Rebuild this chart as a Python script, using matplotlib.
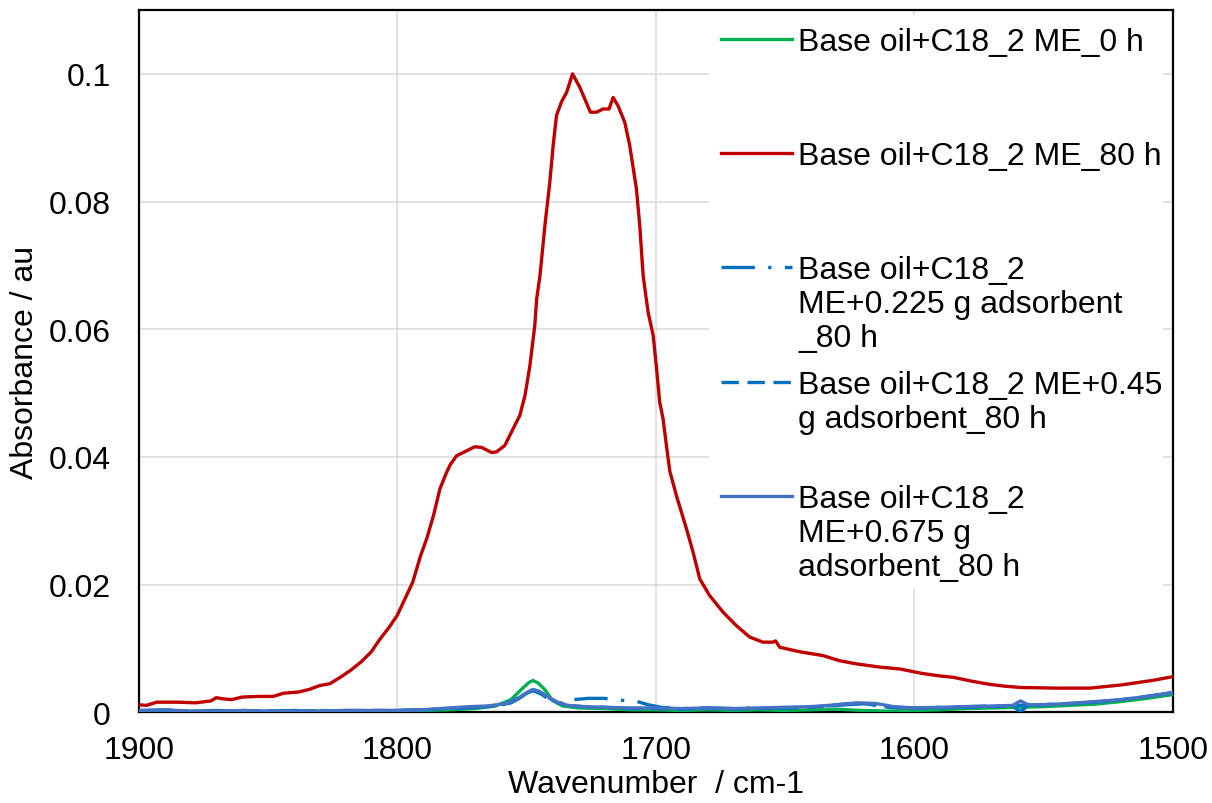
import matplotlib
matplotlib.use("Agg")
import matplotlib.pyplot as plt
from matplotlib.lines import Line2D
from matplotlib.patches import Rectangle
from matplotlib.ticker import FuncFormatter, MultipleLocator

plt.rcParams["font.family"] = ["Liberation Sans", "DejaVu Sans"]

# FTIR carbonyl region, wavenumber (cm-1) vs absorbance
wn_0h = [1900, 1890, 1880, 1870, 1860, 1850, 1840, 1830, 1820, 1810, 1800, 1790,
         1780, 1770, 1762, 1756, 1752, 1749, 1747.5, 1745.5, 1743, 1740, 1736, 1730,
         1720, 1710, 1700, 1690, 1680, 1670, 1660, 1650, 1640, 1630, 1620, 1610,
         1600, 1590, 1580, 1570, 1560, 1550, 1540, 1530, 1520, 1510, 1500]
abs_0h = [0.0002, 0.0002, 0.0001, 0.0002, 0.0002, 0.0001, 0.0001, 0.0002, 0.0002, 0.0002, 0.0002, 0.0003,
          0.0004, 0.0006, 0.0010, 0.0020, 0.0036, 0.0047, 0.0050, 0.0046, 0.0036, 0.0019, 0.0010, 0.0007,
          0.0006, 0.0004, 0.0004, 0.0003, 0.0004, 0.0003, 0.0004, 0.0003, 0.0004, 0.0005, 0.0003, 0.0002,
          0.0003, 0.0004, 0.0006, 0.0007, 0.0008, 0.0009, 0.0011, 0.0013, 0.0017, 0.0022, 0.0028]

wn_80h = [1900, 1897, 1893, 1885, 1878, 1872, 1870, 1867, 1864, 1860, 1854, 1848,
          1844, 1838, 1834, 1830, 1826, 1822, 1818, 1814, 1810, 1807, 1803, 1800,
          1797, 1794, 1791, 1788.6, 1786, 1783.5, 1781, 1779.5, 1777, 1773, 1770, 1767.4,
          1763.5, 1761.6, 1758.4, 1755.2, 1752.6, 1750.6, 1748.7, 1746.8, 1746.1, 1744.8, 1742.9, 1741,
          1739.7, 1738.4, 1736.5, 1734.5, 1732.2, 1729.4, 1727.5, 1725.3, 1722.9, 1720.4, 1718.1, 1716.5,
          1714.6, 1712, 1710.1, 1707.5, 1706.2, 1704.9, 1703, 1701, 1699.7, 1698.5, 1697.2, 1695.9,
          1694.6, 1692, 1688.1, 1685.6, 1683, 1679.2, 1674, 1668.9, 1663.7, 1658.6, 1654.7, 1653.7,
          1652.1, 1644.4, 1635.4, 1629, 1622.5, 1613.5, 1605.6, 1597, 1590, 1585, 1578, 1571,
          1565, 1559, 1545, 1532, 1520, 1508, 1500]
abs_80h = [0.0012, 0.0011, 0.0016, 0.0016, 0.0015, 0.0018, 0.0023, 0.0021, 0.0020, 0.0024, 0.0025, 0.0025,
           0.0030, 0.0032, 0.0036, 0.0042, 0.0045, 0.0055, 0.0066, 0.0079, 0.0095, 0.0113, 0.0134, 0.0152,
           0.0178, 0.0204, 0.0245, 0.0272, 0.0308, 0.0350, 0.0375, 0.0388, 0.0402, 0.0410, 0.0416, 0.0415,
           0.0407, 0.0408, 0.0418, 0.0444, 0.0465, 0.0496, 0.0543, 0.0606, 0.0647, 0.0684, 0.0762, 0.0830,
           0.0888, 0.0935, 0.0956, 0.0971, 0.1000, 0.0979, 0.0961, 0.0940, 0.0940, 0.0945, 0.0945, 0.0963,
           0.0950, 0.0924, 0.0888, 0.0820, 0.0762, 0.0684, 0.0627, 0.0590, 0.0538, 0.0486, 0.0460, 0.0418,
           0.0378, 0.0339, 0.0287, 0.0251, 0.0209, 0.0183, 0.0157, 0.0136, 0.0118, 0.0110, 0.0110, 0.0112,
           0.0102, 0.0095, 0.0089, 0.0081, 0.0076, 0.0071, 0.0068, 0.0061, 0.0057, 0.0055, 0.0049, 0.0044,
           0.0041, 0.0039, 0.0038, 0.0038, 0.0043, 0.0050, 0.0056]

wn_225 = [1900, 1890, 1880, 1870, 1860, 1850, 1840, 1830, 1820, 1810, 1800, 1790,
          1780, 1770, 1762, 1756, 1752, 1750, 1747.5, 1744, 1740, 1736, 1732, 1726,
          1720, 1714, 1708, 1703, 1698, 1690, 1680, 1670, 1660, 1650, 1640, 1630,
          1622, 1615, 1608, 1600, 1590, 1580, 1570, 1560, 1550, 1540, 1530, 1520,
          1510, 1500]
abs_225 = [0.0002, 0.0004, 0.0002, 0.0003, 0.0002, 0.0002, 0.0003, 0.0002, 0.0003, 0.0003, 0.0003, 0.0004,
           0.0006, 0.0008, 0.0010, 0.0015, 0.0024, 0.0030, 0.0034, 0.0028, 0.0016, 0.0015, 0.0020, 0.0022,
           0.0022, 0.0019, 0.0018, 0.0012, 0.0008, 0.0006, 0.0007, 0.0006, 0.0007, 0.0007, 0.0009, 0.0011,
           0.0013, 0.0012, 0.0008, 0.0007, 0.0008, 0.0009, 0.0010, 0.0011, 0.0012, 0.0014, 0.0016, 0.0020,
           0.0025, 0.0031]

wn_45 = [1900, 1890, 1880, 1870, 1860, 1850, 1840, 1830, 1820, 1810, 1800, 1790,
         1780, 1770, 1762, 1756, 1752, 1750, 1747.5, 1745, 1742, 1738, 1734, 1728,
         1720, 1710, 1700, 1690, 1680, 1670, 1660, 1650, 1640, 1632, 1625, 1618,
         1610, 1600, 1590, 1580, 1570, 1562, 1559, 1556, 1550, 1540, 1530, 1520,
         1510, 1500]
abs_45 = [0.0003, 0.0003, 0.0002, 0.0002, 0.0003, 0.0002, 0.0002, 0.0003, 0.0002, 0.0003, 0.0003, 0.0004,
          0.0006, 0.0008, 0.0010, 0.0015, 0.0024, 0.0030, 0.0035, 0.0032, 0.0024, 0.0015, 0.0011, 0.0009,
          0.0008, 0.0006, 0.0006, 0.0005, 0.0006, 0.0005, 0.0006, 0.0007, 0.0008, 0.0011, 0.0014, 0.0013,
          0.0008, 0.0006, 0.0007, 0.0008, 0.0009, 0.0010, 0.0001, 0.0011, 0.0012, 0.0014, 0.0016, 0.0020,
          0.0025, 0.0031]

wn_675 = [1900, 1890, 1880, 1870, 1860, 1850, 1840, 1830, 1820, 1810, 1800, 1790,
          1780, 1772, 1765, 1758, 1753, 1750, 1747.5, 1745, 1742, 1738, 1734, 1728,
          1720, 1710, 1700, 1690, 1680, 1670, 1660, 1650, 1640, 1630, 1622, 1615,
          1608, 1600, 1590, 1580, 1570, 1562, 1559, 1556, 1550, 1540, 1530, 1520,
          1510, 1500]
abs_675 = [0.0003, 0.0004, 0.0002, 0.0002, 0.0003, 0.0002, 0.0002, 0.0002, 0.0003, 0.0003, 0.0003, 0.0004,
           0.0007, 0.0009, 0.0010, 0.0014, 0.0023, 0.0031, 0.0036, 0.0033, 0.0025, 0.0016, 0.0011, 0.0009,
           0.0008, 0.0007, 0.0007, 0.0006, 0.0007, 0.0006, 0.0007, 0.0008, 0.0009, 0.0012, 0.0015, 0.0014,
           0.0009, 0.0007, 0.0008, 0.0009, 0.0010, 0.0011, 0.0018, 0.0012, 0.0012, 0.0014, 0.0017, 0.0020,
           0.0025, 0.0031]

labels = [
    "Base oil+C18_2 ME_0 h",
    "Base oil+C18_2 ME_80 h",
    "Base oil+C18_2\nME+0.225 g adsorbent\n_80 h",
    "Base oil+C18_2 ME+0.45\ng adsorbent_80 h",
    "Base oil+C18_2\nME+0.675 g\nadsorbent_80 h",
]
colors = ["#00b050", "#c00000", "#0070c0", "#0070c0", "#4472c4"]
styles = ["-", "-", (0, (10, 4, 1, 4)), (0, (5.2, 2.6)), "-"]

series = [(wn_0h, abs_0h), (wn_80h, abs_80h), (wn_225, abs_225),
          (wn_45, abs_45), (wn_675, abs_675)]

FS = 23
LW = 2.4

fig = plt.figure(figsize=(12.12, 8.04), dpi=100)
ax = fig.add_axes([0.1144, 0.1127, 0.8534, 0.8736])

for (x, y), c, ls in zip(series, colors, styles):
    ax.plot(x, y, color=c, linestyle=ls, linewidth=LW, zorder=3,
            solid_joinstyle="round")

ax.set_xlim(1900, 1500)
ax.set_ylim(0, 0.11)
ax.xaxis.set_major_locator(MultipleLocator(100))
ax.set_yticks([0, 0.02, 0.04, 0.06, 0.08, 0.1])
ax.yaxis.set_major_formatter(FuncFormatter(lambda v, p: f"{v:g}"))
ax.grid(True, color="#d9d9d9", linewidth=1.1)
ax.set_axisbelow(True)
for s in ax.spines.values():
    s.set_color("black")
    s.set_linewidth(1.6)
ax.tick_params(axis="both", length=0, labelsize=FS, colors="black")
ax.tick_params(axis="y", pad=20)
ax.tick_params(axis="x", pad=16)

ax.set_xlabel("Wavenumber  / cm-1", fontsize=FS, labelpad=3)
ax.set_ylabel("Absorbance / au", fontsize=FS, labelpad=6)

# white legend panel inside the plot area
ax.add_patch(Rectangle((0.5514, 0.1757), 0.4389, 0.8172, transform=ax.transAxes,
                       facecolor="white", edgecolor="none", zorder=1.5))
entry_y = [0.9587, 0.7964, 0.6341, 0.4705, 0.3081]
for lab, c, ls, yy in zip(labels, colors, styles, entry_y):
    ax.add_line(Line2D([0.5627, 0.6314], [yy, yy], transform=ax.transAxes,
                       color=c, linestyle=ls, linewidth=LW, zorder=4))
    ax.text(0.6375, yy + 0.0175, lab, transform=ax.transAxes, fontsize=FS,
            va="top", ha="left", linespacing=1.17, zorder=4)

fig.savefig("out.png", dpi=100)
